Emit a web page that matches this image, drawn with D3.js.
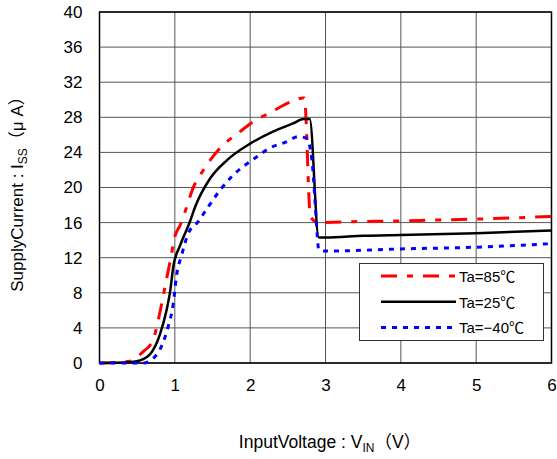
<!DOCTYPE html>
<html><head><meta charset="utf-8">
<script src="https://cdn.jsdelivr.net/npm/d3@7"></script>
<style>body{margin:0;background:#fff}svg{display:block}text{font-family:"Liberation Sans",Arial,"Noto Sans CJK JP",sans-serif}</style>
</head><body>
<svg id="c" width="557" height="459"></svg>
<script>
const xTicks = [0,1,2,3,4,5,6];
const yTicks = [0,4,8,12,16,20,24,28,32,36,40];
const series85 = [[0,0],[0.4,0.2],[0.58,1.3],[0.71,2.6],[0.78,4.9],[0.87,8.7],[0.94,11.7],[1.0,14.4],[1.07,15.7],[1.13,17.1],[1.25,20.1],[1.38,22.0],[1.58,24.3],[1.87,26.4],[2.04,27.5],[2.26,28.5],[2.55,29.8],[2.70,30.2],[2.72,30.2],[2.8,16.7],[2.91,15.95],[3,16.0],[4,16.2],[5,16.4],[6,16.7]];
const series25 = [[0,0],[0.4,0.1],[0.54,0.3],[0.69,1.2],[0.80,3.2],[0.89,6.0],[0.94,8.3],[0.98,11.0],[1.07,13.4],[1.2,16.1],[1.27,17.8],[1.47,21.05],[1.69,23.1],[2.0,25.0],[2.31,26.4],[2.57,27.3],[2.71,27.8],[2.79,27.8],[2.91,14.3],[3,14.3],[3.5,14.5],[4,14.6],[5,14.8],[6,15.1]];
const seriesM40 = [[0,0],[0.58,0],[0.71,0.5],[0.83,2.05],[0.91,4.1],[0.98,6.8],[1.02,9.8],[1.09,12.3],[1.18,14.8],[1.3,16.0],[1.42,17.5],[1.60,19.7],[1.75,21.2],[2.09,23.5],[2.26,24.5],[2.48,25.2],[2.64,25.8],[2.75,25.6],[2.82,23.1],[2.86,18.6],[2.89,14.6],[2.91,12.9],[3,12.75],[4,13.0],[5,13.2],[6,13.6]];
const legendLabels = ["Ta=85\u2103","Ta=25\u2103","Ta=\u221240\u2103"];

const svg = d3.select("#c");
const L=99.5,R=551.5,T=12,B=363;
const x = d3.scaleLinear().domain([0,6]).range([L,R]);
const y = d3.scaleLinear().domain([0,40]).range([B,T]);

// grid
svg.append("g").selectAll("line").data(yTicks).join("line")
  .attr("x1",L).attr("x2",R).attr("y1",d=>y(d)).attr("y2",d=>y(d))
  .attr("stroke","#555").attr("stroke-width",1);
svg.append("g").selectAll("line").data(xTicks).join("line")
  .attr("y1",T).attr("y2",B).attr("x1",d=>x(d)).attr("x2",d=>x(d))
  .attr("stroke","#555").attr("stroke-width",1);

// axes labels
const yAxis = d3.axisLeft(y).tickValues(yTicks).tickFormat(d3.format("d")).tickSize(0).tickPadding(17);
const gy = svg.append("g").attr("transform",`translate(${L},0)`).call(yAxis);
gy.select(".domain").remove();
gy.selectAll("text").attr("font-size",17).attr("fill","#000").attr("font-family","Liberation Sans, Arial, sans-serif");
const xAxis = d3.axisBottom(x).tickValues(xTicks).tickFormat(d3.format("d")).tickSize(0).tickPadding(16);
const gx = svg.append("g").attr("transform",`translate(0,${B})`).call(xAxis);
gx.select(".domain").remove();
gx.selectAll("text").attr("font-size",17).attr("fill","#000").attr("font-family","Liberation Sans, Arial, sans-serif");

// frame
svg.append("rect").attr("x",L).attr("y",T).attr("width",R-L).attr("height",B-T)
  .attr("fill","none").attr("stroke","#000").attr("stroke-width",1.5);

const line = d3.line().x(d=>x(d[0])).y(d=>y(d[1])).curve(d3.curveMonotoneX);
const styles = [
  {data:series85,color:"#ff0000",dash:"16,10,6,10",w:3},
  {data:series25,color:"#000000",dash:null,w:2.5},
  {data:seriesM40,color:"#0000ff",dash:"5,6",w:3}
];
styles.forEach(s=>{
  svg.append("path").datum(s.data).attr("d",line).attr("fill","none")
    .attr("stroke",s.color).attr("stroke-width",s.w).attr("stroke-dasharray",s.dash)
    .attr("stroke-linejoin","miter");
});

// legend
const lg = svg.append("g");
lg.append("rect").attr("x",359.5).attr("y",263.5).attr("width",184).attr("height",77)
  .attr("fill","#fff").attr("stroke","#333").attr("stroke-width",1);
styles.forEach((s,i)=>{
  const yy = 276 + i*25.7;
  lg.append("line").attr("x1",381).attr("x2",456).attr("y1",yy).attr("y2",yy)
    .attr("stroke",s.color).attr("stroke-width",s.w).attr("stroke-dasharray",s.dash);
  lg.append("text").attr("x",459).attr("y",yy+6).attr("font-size",15).text(legendLabels[i]);
});

// axis titles
const yt = svg.append("text").attr("transform","translate(23,190) rotate(-90)").attr("text-anchor","middle").attr("font-size",17);
yt.append("tspan").text("SupplyCurrent : I");
yt.append("tspan").attr("font-size",12).attr("dy",4).text("SS");
yt.append("tspan").attr("dy",-4).text("\uff08\u03bc A\uff09");
const xt = svg.append("text").attr("x",330).attr("y",448).attr("text-anchor","middle").attr("font-size",17.5);
xt.append("tspan").text("InputVoltage : V");
xt.append("tspan").attr("font-size",12).attr("dy",4).text("IN");
xt.append("tspan").attr("dy",-4).text("\uff08V\uff09");
</script>
</body></html>
